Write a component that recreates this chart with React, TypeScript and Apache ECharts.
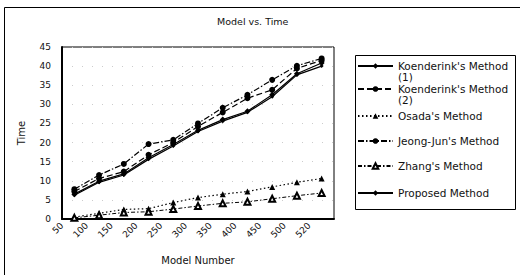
import React, { useEffect, useRef } from "react";
import * as echarts from "echarts";

const categories = ["50", "100", "150", "200", "250", "300", "350", "400", "450", "500", "520"];
const koenderink1 = [6.5, 9.9, 11.8, 16.0, 19.5, 23.2, 26.0, 28.2, 32.5, 38.0, 40.8];
const koenderink2 = [7.2, 10.6, 12.4, 16.8, 20.0, 24.2, 27.9, 31.6, 33.8, 39.4, 41.5];
const osada = [0.5, 1.5, 2.5, 2.7, 4.3, 5.6, 6.5, 7.2, 8.4, 9.6, 10.6];
const jeongJun = [7.8, 11.5, 14.4, 19.6, 20.7, 25.0, 29.1, 32.5, 36.4, 40.1, 42.0];
const zhang = [0.3, 1.0, 1.7, 1.9, 2.6, 3.4, 4.1, 4.5, 5.3, 6.1, 6.8];
const proposed = [6.2, 9.6, 11.5, 15.6, 19.1, 22.9, 25.6, 27.9, 32.0, 37.7, 40.0];

const FONT = "DejaVu Sans";
const INK = "#111";

export default function App() {
  const ref = useRef<HTMLDivElement>(null);
  useEffect(() => {
    if (!ref.current) return;
    const chart = echarts.init(ref.current, undefined, { renderer: "svg" });
    const names = [
      "Koenderink's Method (1)",
      "Koenderink's Method (2)",
      "Osada's Method",
      "Jeong-Jun's Method",
      "Zhang's Method",
      "Proposed Method",
    ];
    const legendCenters = [66, 89, 116, 141, 166, 193];
    const IH = 7;
    const LH = 11;
    const mkLegend = (i: number) => {
      const twoLine = i < 2;
      return {
        show: true,
        data: [names[i]],
        orient: "vertical",
        left: 357,
        top: twoLine ? legendCenters[i] - 1.5 * LH : legendCenters[i] - LH / 2,
        padding: 0,
        itemWidth: 35,
        itemHeight: IH,
        selectedMode: false,
        itemStyle: { borderWidth: i === 4 ? 0.8 : 0 },
        formatter: (n: string) => (twoLine ? "\n" + n.replace(" (", "\n(") : n),
        textStyle: {
          fontFamily: FONT,
          fontSize: 10.5,
          color: INK,
          lineHeight: LH,
        },
      };
    };
    const base = {
      type: "line",
      xAxisIndex: 0,
      yAxisIndex: 0,
      color: "#000",
      symbolSize: 6,
      itemStyle: { color: "#000" },
    };
    chart.setOption({
      animation: false,
      backgroundColor: "#fff",
      title: {
        text: "Model vs. Time",
        left: 217,
        top: 16,
        padding: 0,
        textStyle: { fontFamily: FONT, fontSize: 9.5, fontWeight: "normal", color: INK },
      },
      legend: [0, 1, 2, 3, 4, 5].map(mkLegend),
      grid: {
        left: 62,
        top: 47,
        width: 272,
        height: 172,
        show: true,
        borderColor: "#000",
        borderWidth: 1,
        backgroundColor: "#fff",
      },
      graphic: [
        {
          type: "rect",
          shape: { x: 4.5, y: 7.5, width: 540, height: 300 },
          style: { fill: "none", stroke: "#000", lineWidth: 1 },
          silent: true,
          z: -1,
        },
        {
          type: "rect",
          shape: { x: 355.5, y: 55.5, width: 160, height: 154 },
          style: { fill: "none", stroke: "#000", lineWidth: 1 },
          silent: true,
        },
      ],
      xAxis: [
        {
          type: "category",
          data: categories,
          boundaryGap: true,
          axisLine: { show: false },
          axisTick: { show: false },
          axisLabel: { show: false },
          splitLine: { show: false },
        },
        {
          type: "category",
          data: [...categories, ""],
          boundaryGap: false,
          position: "bottom",
          axisLine: { show: true, lineStyle: { color: "#000", width: 2 } },
          axisTick: { show: false },
          axisLabel: {
            rotate: 45,
            interval: 0,
            margin: 5,
            fontFamily: FONT,
            fontSize: 9,
            color: INK,
          },
          name: "Model Number",
          nameLocation: "middle",
          nameGap: 36,
          nameTextStyle: { fontFamily: FONT, fontSize: 10, color: INK },
        },
      ],
      yAxis: {
        type: "value",
        min: 0,
        max: 45,
        interval: 5,
        axisLine: { show: true, lineStyle: { color: "#000", width: 2 } },
        axisTick: { show: false },
        axisLabel: { fontFamily: FONT, fontSize: 9, color: INK, margin: 11 },
        splitLine: { show: true, lineStyle: { color: "#ccc", width: 1, type: [1, 9] } },
        name: "Time",
        nameLocation: "middle",
        nameRotate: 90,
        nameGap: 36,
        nameTextStyle: { fontFamily: FONT, fontSize: 10, color: INK },
      },
      series: [
        {
          ...base,
          name: names[0],
          data: koenderink1,
          symbol: "diamond",
          symbolSize: 6,
          lineStyle: { color: "#000", width: 1.2, type: "solid" },
        },
        {
          ...base,
          name: names[1],
          data: koenderink2,
          symbol: "circle",
          symbolSize: 6,
          lineStyle: { color: "#000", width: 1.2, type: [6, 3] },
        },
        {
          ...base,
          name: names[2],
          data: osada,
          symbol: "triangle",
          symbolSize: 6,
          lineStyle: { color: "#000", width: 1.2, type: [1.5, 2.5] },
        },
        {
          ...base,
          name: names[3],
          data: jeongJun,
          symbol: "circle",
          symbolSize: 6,
          lineStyle: { color: "#000", width: 1.2, type: [6, 2, 1.5, 2] },
        },
        {
          ...base,
          name: names[4],
          data: zhang,
          symbol: "emptyTriangle",
          symbolSize: 6,
          lineStyle: { color: "#000", width: 1, type: [4, 2, 1.5, 2] },
        },
        {
          ...base,
          name: names[5],
          data: proposed,
          symbol: "diamond",
          symbolSize: 4,
          lineStyle: { color: "#000", width: 1.2, type: "solid" },
        },
      ],
    });
    return () => chart.dispose();
  }, []);
  return (
    <div
      ref={ref}
      style={{ position: "fixed", left: 0, top: 0, width: 520, height: 275, background: "#fff" }}
    />
  );
}
